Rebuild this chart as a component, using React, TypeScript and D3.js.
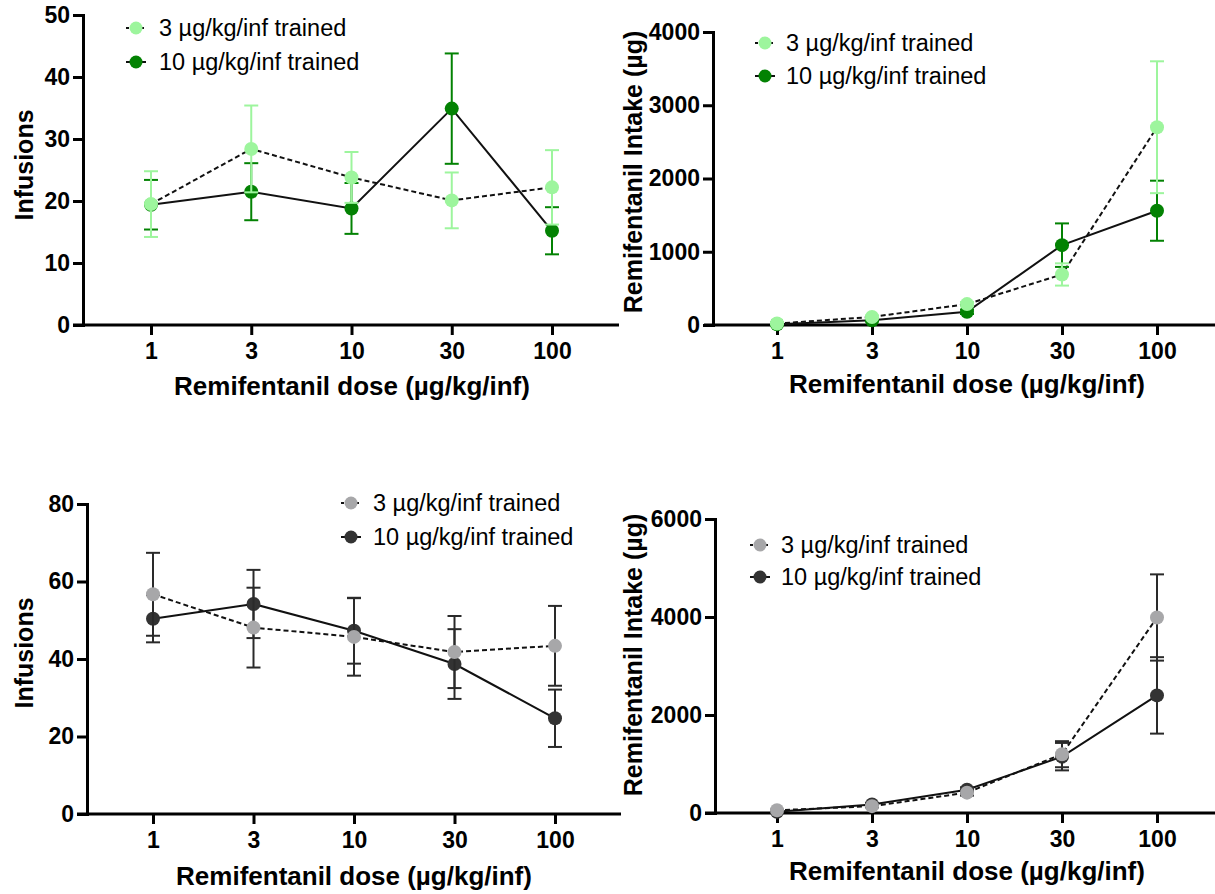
import React, { useRef, useEffect } from "react";
import * as d3 from "d3";

// doses shown on the x axis (log spaced categories)
const doses = ["1", "3", "10", "30", "100"];
const seriesNames = ["3 µg/kg/inf trained", "10 µg/kg/inf trained"];

// top left: infusions, green groups
const infGreen3 = [19.5, 28.4, 23.8, 20.1, 22.2];
const infGreen3Err = [5.3, 7.0, 4.1, 4.5, 6.0];
const infGreen10 = [19.4, 21.5, 18.8, 34.9, 15.2];
const infGreen10Err = [4.0, 4.6, 4.1, 8.9, 3.8];

// top right: intake, green groups
const intakeGreen3 = [20, 110, 285, 690, 2700];
const intakeGreen3Err = [8, 20, 30, 152, 900];
const intakeGreen10 = [10, 65, 180, 1090, 1560];
const intakeGreen10Err = [5, 15, 30, 297, 410];

// bottom left: infusions, grey groups
const infGrey3 = [56.7, 48.1, 45.7, 41.8, 43.4];
const infGrey3Err = [10.7, 10.3, 10.0, 9.3, 10.3];
const infGrey10 = [50.4, 54.2, 47.3, 38.7, 24.7];
const infGrey10Err = [6.1, 8.8, 8.5, 9.0, 7.4];

// bottom right: intake, grey groups
const intakeGrey3 = [55, 140, 415, 1200, 3990];
const intakeGrey3Err = [10, 25, 60, 266, 880];
const intakeGrey10 = [25, 175, 475, 1150, 2400];
const intakeGrey10Err = [8, 25, 50, 280, 780];

const infTicksA = [0, 10, 20, 30, 40, 50];
const intakeTicksB = [0, 1000, 2000, 3000, 4000];
const infTicksC = [0, 20, 40, 60, 80];
const intakeTicksD = [0, 2000, 4000, 6000];

const FONT = "'Liberation Sans', Arial, Helvetica, sans-serif";

const panels = [
  {
    yLabel: "Infusions", ticks: infTicksA,
    lo: infGreen3, loErr: infGreen3Err, hi: infGreen10, hiErr: infGreen10Err,
    colors: ["#9df59d", "#038203"], errColors: ["#9df59d", "#038203"],
    box: { axisX: 83, top: 15, bottom: 325, c0: 151, c1: 552, start: 73, end: 619,
      titleX: 33, titleY: 165, labelX: 352, labelY: 395, legX: 136, legY: [28, 62], textX: 159 },
  },
  {
    yLabel: "Remifentanil Intake (µg)", ticks: intakeTicksB,
    lo: intakeGreen3, loErr: intakeGreen3Err, hi: intakeGreen10, hiErr: intakeGreen10Err,
    colors: ["#9df59d", "#038203"], errColors: ["#9df59d", "#038203"],
    box: { axisX: 713, top: 32, bottom: 325, c0: 777, c1: 1157, start: 704, end: 1215,
      titleX: 642, titleY: 172, labelX: 967, labelY: 393, legX: 765, legY: [43, 76], textX: 786 },
  },
  {
    yLabel: "Infusions", ticks: infTicksC,
    lo: infGrey3, loErr: infGrey3Err, hi: infGrey10, hiErr: infGrey10Err,
    colors: ["#a7a7a9", "#333333"], errColors: ["#2a2a2a", "#2a2a2a"],
    box: { axisX: 87, top: 504, bottom: 814, c0: 153, c1: 555, start: 77, end: 621,
      titleX: 33, titleY: 653, labelX: 354, labelY: 885, legX: 351, legY: [503, 537], textX: 373 },
  },
  {
    yLabel: "Remifentanil Intake (µg)", ticks: intakeTicksD,
    lo: intakeGrey3, loErr: intakeGrey3Err, hi: intakeGrey10, hiErr: intakeGrey10Err,
    colors: ["#a7a7a9", "#333333"], errColors: ["#2a2a2a", "#2a2a2a"],
    box: { axisX: 715, top: 519, bottom: 813, c0: 777, c1: 1157, start: 705, end: 1215,
      titleX: 642, titleY: 655, labelX: 967, labelY: 880, legX: 760, legY: [545, 577], textX: 781 },
  },
];

function App() {
  const ref = useRef<SVGSVGElement>(null);

  useEffect(() => {
    const svg = d3.select(ref.current);
    svg.selectAll("*").remove();
    panels.forEach((p) => draw(svg, p));
  }, []);

  const draw = (svg: any, p: any) => {
    const b = p.box;
    const x = d3.scalePoint<string>().domain(doses).range([b.c0, b.c1]);
    const y = d3.scaleLinear().domain([0, p.ticks[p.ticks.length - 1]]).range([b.bottom, b.top]);
    const g = svg.append("g");

    // y axis
    const ya = g.append("g")
      .attr("transform", `translate(${b.axisX},0)`)
      .call(d3.axisLeft(y).tickValues(p.ticks).tickFormat(d3.format("d")).tickSize(10).tickPadding(3).tickSizeOuter(0));
    ya.select(".domain").attr("stroke-width", 3).attr("stroke-linecap", "square");
    ya.selectAll(".tick line").attr("stroke-width", 3);
    ya.attr("font-family", FONT).attr("font-size", 23).attr("font-weight", "bold");

    // x axis: tick marks from the axis, base line drawn longer like the original
    const xa = g.append("g")
      .attr("transform", `translate(0,${b.bottom})`)
      .call(d3.axisBottom(x).tickSize(10).tickPadding(8).tickSizeOuter(0));
    xa.select(".domain").remove();
    xa.selectAll(".tick line").attr("stroke-width", 3);
    xa.attr("font-family", FONT).attr("font-size", 23).attr("font-weight", "bold");
    g.append("line")
      .attr("x1", b.start).attr("x2", b.end)
      .attr("y1", b.bottom).attr("y2", b.bottom)
      .attr("stroke", "#000").attr("stroke-width", 3);

    // axis titles
    g.append("text")
      .attr("transform", `translate(${b.titleX},${b.titleY}) rotate(-90)`)
      .attr("text-anchor", "middle")
      .attr("font-family", FONT).attr("font-size", 25).attr("font-weight", "bold")
      .text(p.yLabel);
    g.append("text")
      .attr("x", b.labelX).attr("y", b.labelY)
      .attr("text-anchor", "middle")
      .attr("font-family", FONT).attr("font-size", 26).attr("font-weight", "bold")
      .text("Remifentanil dose (µg/kg/inf)");

    const line = d3.line<number>()
      .x((d, i) => x(doses[i]) as number)
      .y((d) => y(d));

    // connecting lines (black), dashed for the 3 µg/kg/inf group
    g.append("path").attr("d", line(p.hi)).attr("fill", "none")
      .attr("stroke", "#111").attr("stroke-width", 2);
    g.append("path").attr("d", line(p.lo)).attr("fill", "none")
      .attr("stroke", "#111").attr("stroke-width", 2).attr("stroke-dasharray", "5,3");

    // error bars + points, light group last so it sits on top
    const series = [
      { vals: p.hi, err: p.hiErr, color: p.colors[1], ecolor: p.errColors[1] },
      { vals: p.lo, err: p.loErr, color: p.colors[0], ecolor: p.errColors[0] },
    ];
    series.forEach((s) => {
      const sg = g.append("g");
      s.vals.forEach((v: number, i: number) => {
        const cx = x(doses[i]) as number;
        const e = s.err[i];
        sg.append("line").attr("x1", cx).attr("x2", cx)
          .attr("y1", y(v - e)).attr("y2", y(v + e))
          .attr("stroke", s.ecolor).attr("stroke-width", 2);
        [v - e, v + e].forEach((t) => {
          sg.append("line").attr("x1", cx - 7).attr("x2", cx + 7)
            .attr("y1", y(t)).attr("y2", y(t))
            .attr("stroke", s.ecolor).attr("stroke-width", 2);
        });
      });
      sg.selectAll("circle").data(s.vals).enter().append("circle")
        .attr("cx", (d: number, i: number) => x(doses[i]))
        .attr("cy", (d: number) => y(d))
        .attr("r", 7)
        .attr("fill", s.color);
    });

    // legend
    const lg = g.append("g");
    [0, 1].forEach((k) => {
      const ly = b.legY[k];
      lg.append("line")
        .attr("x1", b.legX - 10).attr("x2", b.legX + 10)
        .attr("y1", ly).attr("y2", ly)
        .attr("stroke", "#111").attr("stroke-width", 2)
        .attr("stroke-dasharray", k === 0 ? "3,2" : null);
      lg.append("circle").attr("cx", b.legX).attr("cy", ly).attr("r", 6.5)
        .attr("fill", p.colors[k]);
      lg.append("text")
        .attr("x", b.textX).attr("y", ly).attr("dy", "0.36em")
        .attr("font-family", FONT).attr("font-size", 23.5)
        .text(seriesNames[k]);
    });
  };

  return (
    <div style={{ position: "absolute", left: 0, top: 0 }}>
      <svg ref={ref} width={1215} height={894} style={{ display: "block", background: "#fff" }}></svg>
    </div>
  );
}

export default App;
